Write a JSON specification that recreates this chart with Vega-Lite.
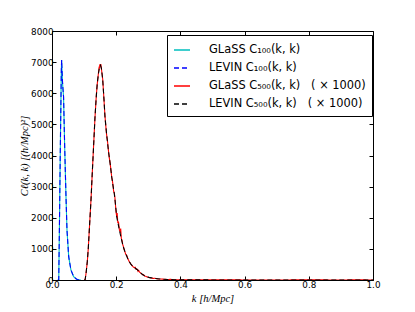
{
  "$schema": "https://vega.github.io/schema/vega-lite/v6.json",
  "width": 321,
  "height": 249,
  "autosize": "none",
  "padding": {"left": 52, "top": 31, "right": 42, "bottom": 32},
  "background": "white",
  "config": {
    "view": {"stroke": "black", "strokeWidth": 1},
    "axis": {"grid": false, "domain": false, "tickColor": "black", "tickSize": -4, "labelColor": "black", "labelFont": "DejaVu Sans", "labelFontSize": 8.8, "labelFlush": false, "titleFont": "Liberation Serif", "titleFontWeight": "normal", "titleFontSize": 10.5, "titleColor": "black"}
  },
  "datasets": {
    "curves": [
      {"series": "GLaSS C₁₀₀(k, k)", "k": 0.018, "v": 0},
      {"series": "GLaSS C₁₀₀(k, k)", "k": 0.021, "v": 0},
      {"series": "GLaSS C₁₀₀(k, k)", "k": 0.023, "v": 1606},
      {"series": "GLaSS C₁₀₀(k, k)", "k": 0.026, "v": 4283},
      {"series": "GLaSS C₁₀₀(k, k)", "k": 0.028, "v": 5890},
      {"series": "GLaSS C₁₀₀(k, k)", "k": 0.029, "v": 6700},
      {"series": "GLaSS C₁₀₀(k, k)", "k": 0.030, "v": 7068},
      {"series": "GLaSS C₁₀₀(k, k)", "k": 0.031, "v": 6800},
      {"series": "GLaSS C₁₀₀(k, k)", "k": 0.033, "v": 6300},
      {"series": "GLaSS C₁₀₀(k, k)", "k": 0.036, "v": 5890},
      {"series": "GLaSS C₁₀₀(k, k)", "k": 0.0395, "v": 4283},
      {"series": "GLaSS C₁₀₀(k, k)", "k": 0.0436, "v": 2677},
      {"series": "GLaSS C₁₀₀(k, k)", "k": 0.0467, "v": 1606},
      {"series": "GLaSS C₁₀₀(k, k)", "k": 0.052, "v": 749},
      {"series": "GLaSS C₁₀₀(k, k)", "k": 0.059, "v": 321},
      {"series": "GLaSS C₁₀₀(k, k)", "k": 0.0675, "v": 107},
      {"series": "GLaSS C₁₀₀(k, k)", "k": 0.075, "v": 40},
      {"series": "GLaSS C₁₀₀(k, k)", "k": 0.08, "v": 10},
      {"series": "GLaSS C₁₀₀(k, k)", "k": 0.09, "v": 0},
      {"series": "LEVIN C₁₀₀(k, k)", "k": 0.018, "v": 0},
      {"series": "LEVIN C₁₀₀(k, k)", "k": 0.021, "v": 0},
      {"series": "LEVIN C₁₀₀(k, k)", "k": 0.023, "v": 1606},
      {"series": "LEVIN C₁₀₀(k, k)", "k": 0.026, "v": 4283},
      {"series": "LEVIN C₁₀₀(k, k)", "k": 0.028, "v": 5890},
      {"series": "LEVIN C₁₀₀(k, k)", "k": 0.029, "v": 6700},
      {"series": "LEVIN C₁₀₀(k, k)", "k": 0.030, "v": 7068},
      {"series": "LEVIN C₁₀₀(k, k)", "k": 0.031, "v": 6800},
      {"series": "LEVIN C₁₀₀(k, k)", "k": 0.033, "v": 6300},
      {"series": "LEVIN C₁₀₀(k, k)", "k": 0.036, "v": 5890},
      {"series": "LEVIN C₁₀₀(k, k)", "k": 0.0395, "v": 4283},
      {"series": "LEVIN C₁₀₀(k, k)", "k": 0.0436, "v": 2677},
      {"series": "LEVIN C₁₀₀(k, k)", "k": 0.0467, "v": 1606},
      {"series": "LEVIN C₁₀₀(k, k)", "k": 0.052, "v": 749},
      {"series": "LEVIN C₁₀₀(k, k)", "k": 0.059, "v": 321},
      {"series": "LEVIN C₁₀₀(k, k)", "k": 0.0675, "v": 107},
      {"series": "LEVIN C₁₀₀(k, k)", "k": 0.075, "v": 40},
      {"series": "LEVIN C₁₀₀(k, k)", "k": 0.08, "v": 10},
      {"series": "LEVIN C₁₀₀(k, k)", "k": 0.09, "v": 0},
      {"series": "GLaSS C₅₀₀(k, k)\u00a0\u00a0\u00a0( × 1000)", "k": 0.100, "v": 0},
      {"series": "GLaSS C₅₀₀(k, k)\u00a0\u00a0\u00a0( × 1000)", "k": 0.103, "v": 0},
      {"series": "GLaSS C₅₀₀(k, k)\u00a0\u00a0\u00a0( × 1000)", "k": 0.106, "v": 210},
      {"series": "GLaSS C₅₀₀(k, k)\u00a0\u00a0\u00a0( × 1000)", "k": 0.110, "v": 590},
      {"series": "GLaSS C₅₀₀(k, k)\u00a0\u00a0\u00a0( × 1000)", "k": 0.113, "v": 1010},
      {"series": "GLaSS C₅₀₀(k, k)\u00a0\u00a0\u00a0( × 1000)", "k": 0.117, "v": 1760},
      {"series": "GLaSS C₅₀₀(k, k)\u00a0\u00a0\u00a0( × 1000)", "k": 0.1215, "v": 2580},
      {"series": "GLaSS C₅₀₀(k, k)\u00a0\u00a0\u00a0( × 1000)", "k": 0.125, "v": 3340},
      {"series": "GLaSS C₅₀₀(k, k)\u00a0\u00a0\u00a0( × 1000)", "k": 0.129, "v": 4190},
      {"series": "GLaSS C₅₀₀(k, k)\u00a0\u00a0\u00a0( × 1000)", "k": 0.134, "v": 5230},
      {"series": "GLaSS C₅₀₀(k, k)\u00a0\u00a0\u00a0( × 1000)", "k": 0.138, "v": 5920},
      {"series": "GLaSS C₅₀₀(k, k)\u00a0\u00a0\u00a0( × 1000)", "k": 0.141, "v": 6300},
      {"series": "GLaSS C₅₀₀(k, k)\u00a0\u00a0\u00a0( × 1000)", "k": 0.145, "v": 6680},
      {"series": "GLaSS C₅₀₀(k, k)\u00a0\u00a0\u00a0( × 1000)", "k": 0.147, "v": 6860},
      {"series": "GLaSS C₅₀₀(k, k)\u00a0\u00a0\u00a0( × 1000)", "k": 0.148, "v": 6800},
      {"series": "GLaSS C₅₀₀(k, k)\u00a0\u00a0\u00a0( × 1000)", "k": 0.149, "v": 6930},
      {"series": "GLaSS C₅₀₀(k, k)\u00a0\u00a0\u00a0( × 1000)", "k": 0.151, "v": 6870},
      {"series": "GLaSS C₅₀₀(k, k)\u00a0\u00a0\u00a0( × 1000)", "k": 0.152, "v": 6940},
      {"series": "GLaSS C₅₀₀(k, k)\u00a0\u00a0\u00a0( × 1000)", "k": 0.154, "v": 6780},
      {"series": "GLaSS C₅₀₀(k, k)\u00a0\u00a0\u00a0( × 1000)", "k": 0.158, "v": 6450},
      {"series": "GLaSS C₅₀₀(k, k)\u00a0\u00a0\u00a0( × 1000)", "k": 0.162, "v": 5780},
      {"series": "GLaSS C₅₀₀(k, k)\u00a0\u00a0\u00a0( × 1000)", "k": 0.165, "v": 5270},
      {"series": "GLaSS C₅₀₀(k, k)\u00a0\u00a0\u00a0( × 1000)", "k": 0.168, "v": 4900},
      {"series": "GLaSS C₅₀₀(k, k)\u00a0\u00a0\u00a0( × 1000)", "k": 0.170, "v": 4680},
      {"series": "GLaSS C₅₀₀(k, k)\u00a0\u00a0\u00a0( × 1000)", "k": 0.173, "v": 4450},
      {"series": "GLaSS C₅₀₀(k, k)\u00a0\u00a0\u00a0( × 1000)", "k": 0.1755, "v": 4190},
      {"series": "GLaSS C₅₀₀(k, k)\u00a0\u00a0\u00a0( × 1000)", "k": 0.178, "v": 3950},
      {"series": "GLaSS C₅₀₀(k, k)\u00a0\u00a0\u00a0( × 1000)", "k": 0.181, "v": 3760},
      {"series": "GLaSS C₅₀₀(k, k)\u00a0\u00a0\u00a0( × 1000)", "k": 0.184, "v": 3500},
      {"series": "GLaSS C₅₀₀(k, k)\u00a0\u00a0\u00a0( × 1000)", "k": 0.186, "v": 3300},
      {"series": "GLaSS C₅₀₀(k, k)\u00a0\u00a0\u00a0( × 1000)", "k": 0.188, "v": 3200},
      {"series": "GLaSS C₅₀₀(k, k)\u00a0\u00a0\u00a0( × 1000)", "k": 0.190, "v": 3050},
      {"series": "GLaSS C₅₀₀(k, k)\u00a0\u00a0\u00a0( × 1000)", "k": 0.192, "v": 2850},
      {"series": "GLaSS C₅₀₀(k, k)\u00a0\u00a0\u00a0( × 1000)", "k": 0.194, "v": 2800},
      {"series": "GLaSS C₅₀₀(k, k)\u00a0\u00a0\u00a0( × 1000)", "k": 0.196, "v": 2650},
      {"series": "GLaSS C₅₀₀(k, k)\u00a0\u00a0\u00a0( × 1000)", "k": 0.198, "v": 2380},
      {"series": "GLaSS C₅₀₀(k, k)\u00a0\u00a0\u00a0( × 1000)", "k": 0.200, "v": 2150},
      {"series": "GLaSS C₅₀₀(k, k)\u00a0\u00a0\u00a0( × 1000)", "k": 0.2015, "v": 2050},
      {"series": "GLaSS C₅₀₀(k, k)\u00a0\u00a0\u00a0( × 1000)", "k": 0.203, "v": 2150},
      {"series": "GLaSS C₅₀₀(k, k)\u00a0\u00a0\u00a0( × 1000)", "k": 0.205, "v": 1830},
      {"series": "GLaSS C₅₀₀(k, k)\u00a0\u00a0\u00a0( × 1000)", "k": 0.207, "v": 1880},
      {"series": "GLaSS C₅₀₀(k, k)\u00a0\u00a0\u00a0( × 1000)", "k": 0.210, "v": 1600},
      {"series": "GLaSS C₅₀₀(k, k)\u00a0\u00a0\u00a0( × 1000)", "k": 0.212, "v": 1560},
      {"series": "GLaSS C₅₀₀(k, k)\u00a0\u00a0\u00a0( × 1000)", "k": 0.214, "v": 1650},
      {"series": "GLaSS C₅₀₀(k, k)\u00a0\u00a0\u00a0( × 1000)", "k": 0.216, "v": 1330},
      {"series": "GLaSS C₅₀₀(k, k)\u00a0\u00a0\u00a0( × 1000)", "k": 0.218, "v": 1280},
      {"series": "GLaSS C₅₀₀(k, k)\u00a0\u00a0\u00a0( × 1000)", "k": 0.220, "v": 1150},
      {"series": "GLaSS C₅₀₀(k, k)\u00a0\u00a0\u00a0( × 1000)", "k": 0.222, "v": 1090},
      {"series": "GLaSS C₅₀₀(k, k)\u00a0\u00a0\u00a0( × 1000)", "k": 0.224, "v": 1010},
      {"series": "GLaSS C₅₀₀(k, k)\u00a0\u00a0\u00a0( × 1000)", "k": 0.226, "v": 940},
      {"series": "GLaSS C₅₀₀(k, k)\u00a0\u00a0\u00a0( × 1000)", "k": 0.228, "v": 880},
      {"series": "GLaSS C₅₀₀(k, k)\u00a0\u00a0\u00a0( × 1000)", "k": 0.230, "v": 820},
      {"series": "GLaSS C₅₀₀(k, k)\u00a0\u00a0\u00a0( × 1000)", "k": 0.233, "v": 790},
      {"series": "GLaSS C₅₀₀(k, k)\u00a0\u00a0\u00a0( × 1000)", "k": 0.236, "v": 690},
      {"series": "GLaSS C₅₀₀(k, k)\u00a0\u00a0\u00a0( × 1000)", "k": 0.238, "v": 650},
      {"series": "GLaSS C₅₀₀(k, k)\u00a0\u00a0\u00a0( × 1000)", "k": 0.241, "v": 580},
      {"series": "GLaSS C₅₀₀(k, k)\u00a0\u00a0\u00a0( × 1000)", "k": 0.244, "v": 540},
      {"series": "GLaSS C₅₀₀(k, k)\u00a0\u00a0\u00a0( × 1000)", "k": 0.247, "v": 490},
      {"series": "GLaSS C₅₀₀(k, k)\u00a0\u00a0\u00a0( × 1000)", "k": 0.250, "v": 460},
      {"series": "GLaSS C₅₀₀(k, k)\u00a0\u00a0\u00a0( × 1000)", "k": 0.253, "v": 420},
      {"series": "GLaSS C₅₀₀(k, k)\u00a0\u00a0\u00a0( × 1000)", "k": 0.256, "v": 400},
      {"series": "GLaSS C₅₀₀(k, k)\u00a0\u00a0\u00a0( × 1000)", "k": 0.259, "v": 410},
      {"series": "GLaSS C₅₀₀(k, k)\u00a0\u00a0\u00a0( × 1000)", "k": 0.262, "v": 340},
      {"series": "GLaSS C₅₀₀(k, k)\u00a0\u00a0\u00a0( × 1000)", "k": 0.265, "v": 350},
      {"series": "GLaSS C₅₀₀(k, k)\u00a0\u00a0\u00a0( × 1000)", "k": 0.268, "v": 280},
      {"series": "GLaSS C₅₀₀(k, k)\u00a0\u00a0\u00a0( × 1000)", "k": 0.270, "v": 310},
      {"series": "GLaSS C₅₀₀(k, k)\u00a0\u00a0\u00a0( × 1000)", "k": 0.273, "v": 250},
      {"series": "GLaSS C₅₀₀(k, k)\u00a0\u00a0\u00a0( × 1000)", "k": 0.276, "v": 230},
      {"series": "GLaSS C₅₀₀(k, k)\u00a0\u00a0\u00a0( × 1000)", "k": 0.279, "v": 200},
      {"series": "GLaSS C₅₀₀(k, k)\u00a0\u00a0\u00a0( × 1000)", "k": 0.282, "v": 170},
      {"series": "GLaSS C₅₀₀(k, k)\u00a0\u00a0\u00a0( × 1000)", "k": 0.285, "v": 175},
      {"series": "GLaSS C₅₀₀(k, k)\u00a0\u00a0\u00a0( × 1000)", "k": 0.288, "v": 130},
      {"series": "GLaSS C₅₀₀(k, k)\u00a0\u00a0\u00a0( × 1000)", "k": 0.292, "v": 120},
      {"series": "GLaSS C₅₀₀(k, k)\u00a0\u00a0\u00a0( × 1000)", "k": 0.296, "v": 100},
      {"series": "GLaSS C₅₀₀(k, k)\u00a0\u00a0\u00a0( × 1000)", "k": 0.300, "v": 90},
      {"series": "GLaSS C₅₀₀(k, k)\u00a0\u00a0\u00a0( × 1000)", "k": 0.305, "v": 70},
      {"series": "GLaSS C₅₀₀(k, k)\u00a0\u00a0\u00a0( × 1000)", "k": 0.310, "v": 65},
      {"series": "GLaSS C₅₀₀(k, k)\u00a0\u00a0\u00a0( × 1000)", "k": 0.315, "v": 50},
      {"series": "GLaSS C₅₀₀(k, k)\u00a0\u00a0\u00a0( × 1000)", "k": 0.320, "v": 55},
      {"series": "GLaSS C₅₀₀(k, k)\u00a0\u00a0\u00a0( × 1000)", "k": 0.330, "v": 35},
      {"series": "GLaSS C₅₀₀(k, k)\u00a0\u00a0\u00a0( × 1000)", "k": 0.340, "v": 30},
      {"series": "GLaSS C₅₀₀(k, k)\u00a0\u00a0\u00a0( × 1000)", "k": 0.350, "v": 25},
      {"series": "GLaSS C₅₀₀(k, k)\u00a0\u00a0\u00a0( × 1000)", "k": 0.360, "v": 15},
      {"series": "GLaSS C₅₀₀(k, k)\u00a0\u00a0\u00a0( × 1000)", "k": 0.370, "v": 20},
      {"series": "GLaSS C₅₀₀(k, k)\u00a0\u00a0\u00a0( × 1000)", "k": 0.380, "v": 10},
      {"series": "GLaSS C₅₀₀(k, k)\u00a0\u00a0\u00a0( × 1000)", "k": 0.400, "v": 8},
      {"series": "GLaSS C₅₀₀(k, k)\u00a0\u00a0\u00a0( × 1000)", "k": 0.420, "v": 6},
      {"series": "GLaSS C₅₀₀(k, k)\u00a0\u00a0\u00a0( × 1000)", "k": 0.450, "v": 4},
      {"series": "GLaSS C₅₀₀(k, k)\u00a0\u00a0\u00a0( × 1000)", "k": 0.500, "v": 3},
      {"series": "GLaSS C₅₀₀(k, k)\u00a0\u00a0\u00a0( × 1000)", "k": 0.550, "v": 4},
      {"series": "GLaSS C₅₀₀(k, k)\u00a0\u00a0\u00a0( × 1000)", "k": 0.600, "v": 2},
      {"series": "GLaSS C₅₀₀(k, k)\u00a0\u00a0\u00a0( × 1000)", "k": 0.700, "v": 2},
      {"series": "GLaSS C₅₀₀(k, k)\u00a0\u00a0\u00a0( × 1000)", "k": 0.800, "v": 3},
      {"series": "GLaSS C₅₀₀(k, k)\u00a0\u00a0\u00a0( × 1000)", "k": 0.900, "v": 2},
      {"series": "GLaSS C₅₀₀(k, k)\u00a0\u00a0\u00a0( × 1000)", "k": 0.950, "v": 3},
      {"series": "GLaSS C₅₀₀(k, k)\u00a0\u00a0\u00a0( × 1000)", "k": 1.000, "v": 2},
      {"series": "LEVIN C₅₀₀(k, k)\u00a0\u00a0\u00a0( × 1000)", "k": 0.100, "v": 0},
      {"series": "LEVIN C₅₀₀(k, k)\u00a0\u00a0\u00a0( × 1000)", "k": 0.103, "v": 0},
      {"series": "LEVIN C₅₀₀(k, k)\u00a0\u00a0\u00a0( × 1000)", "k": 0.106, "v": 200},
      {"series": "LEVIN C₅₀₀(k, k)\u00a0\u00a0\u00a0( × 1000)", "k": 0.110, "v": 600},
      {"series": "LEVIN C₅₀₀(k, k)\u00a0\u00a0\u00a0( × 1000)", "k": 0.113, "v": 1000},
      {"series": "LEVIN C₅₀₀(k, k)\u00a0\u00a0\u00a0( × 1000)", "k": 0.117, "v": 1750},
      {"series": "LEVIN C₅₀₀(k, k)\u00a0\u00a0\u00a0( × 1000)", "k": 0.1215, "v": 2570},
      {"series": "LEVIN C₅₀₀(k, k)\u00a0\u00a0\u00a0( × 1000)", "k": 0.125, "v": 3350},
      {"series": "LEVIN C₅₀₀(k, k)\u00a0\u00a0\u00a0( × 1000)", "k": 0.129, "v": 4177},
      {"series": "LEVIN C₅₀₀(k, k)\u00a0\u00a0\u00a0( × 1000)", "k": 0.134, "v": 5245},
      {"series": "LEVIN C₅₀₀(k, k)\u00a0\u00a0\u00a0( × 1000)", "k": 0.138, "v": 5900},
      {"series": "LEVIN C₅₀₀(k, k)\u00a0\u00a0\u00a0( × 1000)", "k": 0.141, "v": 6318},
      {"series": "LEVIN C₅₀₀(k, k)\u00a0\u00a0\u00a0( × 1000)", "k": 0.145, "v": 6650},
      {"series": "LEVIN C₅₀₀(k, k)\u00a0\u00a0\u00a0( × 1000)", "k": 0.148, "v": 6830},
      {"series": "LEVIN C₅₀₀(k, k)\u00a0\u00a0\u00a0( × 1000)", "k": 0.151, "v": 6900},
      {"series": "LEVIN C₅₀₀(k, k)\u00a0\u00a0\u00a0( × 1000)", "k": 0.154, "v": 6800},
      {"series": "LEVIN C₅₀₀(k, k)\u00a0\u00a0\u00a0( × 1000)", "k": 0.158, "v": 6426},
      {"series": "LEVIN C₅₀₀(k, k)\u00a0\u00a0\u00a0( × 1000)", "k": 0.162, "v": 5800},
      {"series": "LEVIN C₅₀₀(k, k)\u00a0\u00a0\u00a0( × 1000)", "k": 0.165, "v": 5245},
      {"series": "LEVIN C₅₀₀(k, k)\u00a0\u00a0\u00a0( × 1000)", "k": 0.170, "v": 4700},
      {"series": "LEVIN C₅₀₀(k, k)\u00a0\u00a0\u00a0( × 1000)", "k": 0.1755, "v": 4177},
      {"series": "LEVIN C₅₀₀(k, k)\u00a0\u00a0\u00a0( × 1000)", "k": 0.181, "v": 3750},
      {"series": "LEVIN C₅₀₀(k, k)\u00a0\u00a0\u00a0( × 1000)", "k": 0.186, "v": 3318},
      {"series": "LEVIN C₅₀₀(k, k)\u00a0\u00a0\u00a0( × 1000)", "k": 0.190, "v": 3030},
      {"series": "LEVIN C₅₀₀(k, k)\u00a0\u00a0\u00a0( × 1000)", "k": 0.194, "v": 2785},
      {"series": "LEVIN C₅₀₀(k, k)\u00a0\u00a0\u00a0( × 1000)", "k": 0.198, "v": 2400},
      {"series": "LEVIN C₅₀₀(k, k)\u00a0\u00a0\u00a0( × 1000)", "k": 0.2015, "v": 2034},
      {"series": "LEVIN C₅₀₀(k, k)\u00a0\u00a0\u00a0( × 1000)", "k": 0.206, "v": 1800},
      {"series": "LEVIN C₅₀₀(k, k)\u00a0\u00a0\u00a0( × 1000)", "k": 0.210, "v": 1606},
      {"series": "LEVIN C₅₀₀(k, k)\u00a0\u00a0\u00a0( × 1000)", "k": 0.216, "v": 1320},
      {"series": "LEVIN C₅₀₀(k, k)\u00a0\u00a0\u00a0( × 1000)", "k": 0.222, "v": 1070},
      {"series": "LEVIN C₅₀₀(k, k)\u00a0\u00a0\u00a0( × 1000)", "k": 0.230, "v": 830},
      {"series": "LEVIN C₅₀₀(k, k)\u00a0\u00a0\u00a0( × 1000)", "k": 0.238, "v": 642},
      {"series": "LEVIN C₅₀₀(k, k)\u00a0\u00a0\u00a0( × 1000)", "k": 0.245, "v": 520},
      {"series": "LEVIN C₅₀₀(k, k)\u00a0\u00a0\u00a0( × 1000)", "k": 0.253, "v": 428},
      {"series": "LEVIN C₅₀₀(k, k)\u00a0\u00a0\u00a0( × 1000)", "k": 0.262, "v": 360},
      {"series": "LEVIN C₅₀₀(k, k)\u00a0\u00a0\u00a0( × 1000)", "k": 0.269, "v": 300},
      {"series": "LEVIN C₅₀₀(k, k)\u00a0\u00a0\u00a0( × 1000)", "k": 0.277, "v": 220},
      {"series": "LEVIN C₅₀₀(k, k)\u00a0\u00a0\u00a0( × 1000)", "k": 0.284, "v": 160},
      {"series": "LEVIN C₅₀₀(k, k)\u00a0\u00a0\u00a0( × 1000)", "k": 0.295, "v": 110},
      {"series": "LEVIN C₅₀₀(k, k)\u00a0\u00a0\u00a0( × 1000)", "k": 0.305, "v": 75},
      {"series": "LEVIN C₅₀₀(k, k)\u00a0\u00a0\u00a0( × 1000)", "k": 0.320, "v": 50},
      {"series": "LEVIN C₅₀₀(k, k)\u00a0\u00a0\u00a0( × 1000)", "k": 0.336, "v": 32},
      {"series": "LEVIN C₅₀₀(k, k)\u00a0\u00a0\u00a0( × 1000)", "k": 0.360, "v": 18},
      {"series": "LEVIN C₅₀₀(k, k)\u00a0\u00a0\u00a0( × 1000)", "k": 0.380, "v": 10},
      {"series": "LEVIN C₅₀₀(k, k)\u00a0\u00a0\u00a0( × 1000)", "k": 0.420, "v": 5},
      {"series": "LEVIN C₅₀₀(k, k)\u00a0\u00a0\u00a0( × 1000)", "k": 0.500, "v": 2},
      {"series": "LEVIN C₅₀₀(k, k)\u00a0\u00a0\u00a0( × 1000)", "k": 0.600, "v": 1},
      {"series": "LEVIN C₅₀₀(k, k)\u00a0\u00a0\u00a0( × 1000)", "k": 0.800, "v": 0},
      {"series": "LEVIN C₅₀₀(k, k)\u00a0\u00a0\u00a0( × 1000)", "k": 1.000, "v": 0}
    ]
  },
  "data": {"name": "curves"},
  "layer": [
    {
      "mark": {"type": "line", "strokeWidth": 1.1, "clip": true},
      "encoding": {
        "x": {"field": "k", "type": "quantitative", "scale": {"domain": [0, 1], "nice": false, "zero": false},
          "axis": {"orient": "bottom", "values": [0, 0.2, 0.4, 0.6, 0.8, 1.0], "format": ".1f", "labelPadding": 4, "title": "k [h/Mpc]", "titleFontStyle": "italic", "titlePadding": 5}},
        "y": {"field": "v", "type": "quantitative", "scale": {"domain": [0, 8000], "nice": false},
          "axis": {"orient": "left", "values": [0, 1000, 2000, 3000, 4000, 5000, 6000, 7000, 8000], "format": "d", "labelPadding": 3, "title": "Cℓ(k, k) [(h/Mpc)²]", "titleFontStyle": "italic", "titlePadding": 1}},
        "color": {"field": "series", "type": "nominal",
          "scale": {"domain": ["GLaSS C₁₀₀(k, k)", "LEVIN C₁₀₀(k, k)", "GLaSS C₅₀₀(k, k)\u00a0\u00a0\u00a0( × 1000)", "LEVIN C₅₀₀(k, k)\u00a0\u00a0\u00a0( × 1000)"], "range": ["#00bfbf", "#0000ff", "#ff0000", "#000000"]},
          "legend": {"title": null, "orient": "none", "legendX": 115, "legendY": 4, "strokeColor": "black", "fillColor": "white", "padding": 6, "rowPadding": 3, "labelFont": "DejaVu Sans", "labelFontSize": 11.4, "labelColor": "black", "labelLimit": 300, "labelOffset": 18, "symbolType": "stroke", "symbolSize": 256, "symbolStrokeWidth": 1.5, "cornerRadius": 0}},
        "strokeDash": {"field": "series", "type": "nominal",
          "scale": {"domain": ["GLaSS C₁₀₀(k, k)", "LEVIN C₁₀₀(k, k)", "GLaSS C₅₀₀(k, k)\u00a0\u00a0\u00a0( × 1000)", "LEVIN C₅₀₀(k, k)\u00a0\u00a0\u00a0( × 1000)"], "range": [[1, 0], [5, 3], [1, 0], [5, 3]]},
          "legend": {"title": null, "orient": "none", "legendX": 115, "legendY": 4, "strokeColor": "black", "fillColor": "white", "padding": 6, "rowPadding": 3, "labelFont": "DejaVu Sans", "labelFontSize": 11.4, "labelColor": "black", "labelLimit": 300, "labelOffset": 18, "symbolType": "stroke", "symbolSize": 256, "symbolStrokeWidth": 1.5, "cornerRadius": 0}}
      }
    },
    {
      "mark": {"type": "point", "opacity": 0},
      "encoding": {
        "x": {"field": "k", "type": "quantitative", "scale": {"domain": [0, 1], "nice": false, "zero": false},
          "axis": {"orient": "top", "values": [0, 0.2, 0.4, 0.6, 0.8, 1.0], "labels": false, "title": null}},
        "y": {"field": "v", "type": "quantitative", "scale": {"domain": [0, 8000], "nice": false},
          "axis": {"orient": "right", "values": [0, 1000, 2000, 3000, 4000, 5000, 6000, 7000, 8000], "labels": false, "title": null}}
      }
    }
  ],
  "resolve": {"axis": {"x": "independent", "y": "independent"}}
}
